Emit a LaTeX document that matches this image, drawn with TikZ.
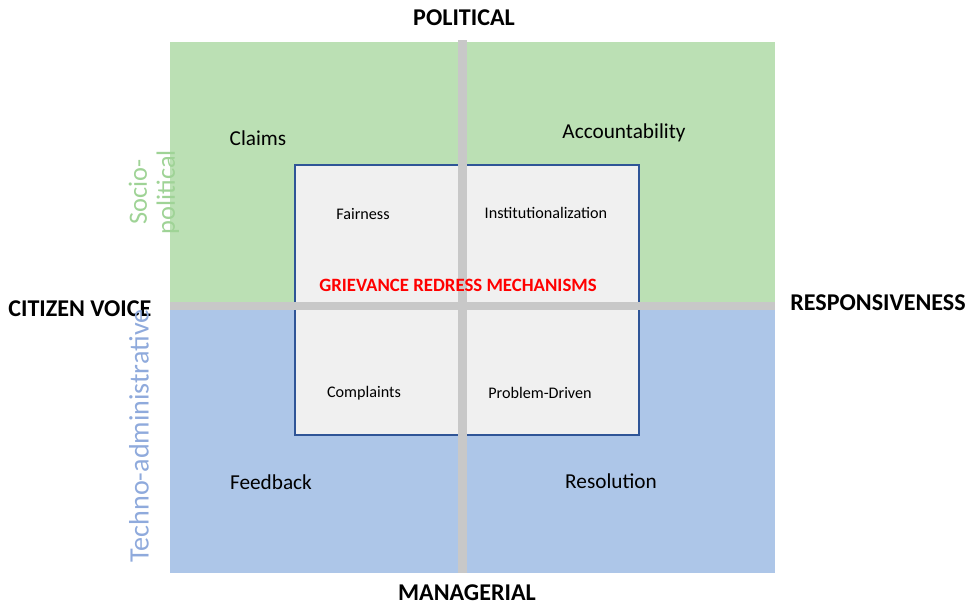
\documentclass[tikz,border=0pt]{standalone}
\usepackage{fontspec}
\setmainfont{Carlito}
\definecolor{qgreen}{HTML}{BBE0B4}
\definecolor{qblue}{HTML}{ADC6E8}
\definecolor{qbar}{HTML}{C8C8C8}
\definecolor{qbox}{HTML}{F0F0F0}
\definecolor{qedge}{HTML}{2F5597}
\definecolor{sgreen}{HTML}{9FD396}
\definecolor{sblue}{HTML}{8FAADC}
\tikzset{
  axis/.style={font=\fontsize{13.7}{15}\selectfont\bfseries, text=black, inner sep=0pt},
  outer/.style={font=\fontsize{12.1}{13}\selectfont, text=black, inner sep=0pt},
  inner/.style={font=\fontsize{9.2}{10}\selectfont, text=black, inner sep=0pt},
  side/.style={rotate=90, inner sep=0pt, align=center},
}
\begin{document}
\begin{tikzpicture}[x=0.02cm,y=-0.02cm]
\useasboundingbox (0,0) rectangle (971,605);
% quadrants
\fill[qgreen] (170,42) rectangle (775,306);
\fill[qblue] (170,306) rectangle (775,573);
% central box
\draw[qedge, fill=qbox, line width=0.8pt] (295,165) rectangle (639,435);
% bars
\fill[qbar] (170,302) rectangle (775,310);
\fill[qbar] (458,40) rectangle (467,573);
% axis labels
\node[axis] (pol) at (464,18) {POLITICAL};
\node[axis] (man) at (467,593) {MANAGERIAL};
\node[axis, anchor=west] (cit) at (8,309) {CITIZEN VOICE};
\node[axis, anchor=west] (resp) at (790,303) {RESPONSIVENESS};
% outer quadrant words
\node[outer] (claims) at (258,138) {Claims};
\node[outer] (acc) at (624,133) {Accountability};
\node[outer] (feed) at (271,482) {Feedback};
\node[outer] (res) at (611,481) {Resolution};
% inner words
\node[inner] (fair) at (363,214) {Fairness};
\node[inner] (inst) at (546,213) {Institutionalization};
\node[inner] (comp) at (364,393) {Complaints};
\node[inner] (prob) at (540,393) {Problem-Driven};
\node[font=\fontsize{10.7}{12}\selectfont\bfseries, text=red, inner sep=0pt] (grm) at (458,285) {GRIEVANCE REDRESS MECHANISMS};
% side labels
\node[side, text=sgreen, font=\fontsize{15}{16}\selectfont] (socio) at (154,192) {Socio-\\political};
\node[side, text=sblue, font=\fontsize{16}{17}\selectfont] (techno) at (139,436) {Techno-administrative};
\end{tikzpicture}
\end{document}
